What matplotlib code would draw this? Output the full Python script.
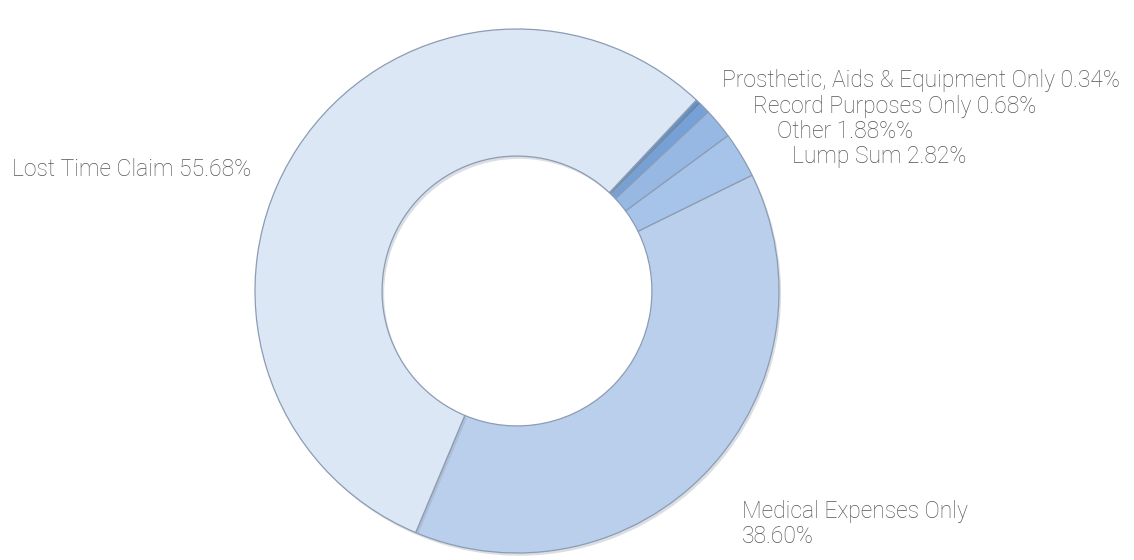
import matplotlib.pyplot as plt
import matplotlib.patheffects as pe

# claim types, ordered clockwise from the top-right
categories = ['Prosthetic, Aids & Equipment Only', 'Record Purposes Only', 'Other',
              'Lump Sum', 'Medical Expenses Only', 'Lost Time Claim']
shares = [0.34, 0.68, 1.88, 2.82, 38.60, 55.68]
label_texts = ['Prosthetic, Aids & Equipment Only 0.34%', 'Record Purposes Only 0.68%',
               'Other 1.88%%', 'Lump Sum 2.82%', 'Medical Expenses Only\n38.60%',
               'Lost Time Claim 55.68%']

colors = ['#4f86c8', '#75a1d9', '#97b8e3', '#a6c3e9', '#b9cfeb', '#dce7f5']
# label anchor points (pixels, origin top-left)
label_pos = [(722, 80), (753, 107), (777, 132), (792, 157), (742, 524), (12, 170)]

W, H = 1134, 560
fig = plt.figure(figsize=(W / 100, H / 100), dpi=100)
ax = fig.add_axes([0, 0, 1, 1])

cx, cy, r = 517, H - 291, 262
wedges, _ = ax.pie(shares, colors=colors, startangle=46.8, counterclock=False,
                   center=(cx, cy), radius=r, frame=True,
                   wedgeprops=dict(width=r * 0.485, edgecolor='#8c9cb4', linewidth=0.9))
ax.set_xlim(0, W)
ax.set_ylim(0, H)
ax.set_aspect('equal')
ax.axis('off')
for w in wedges:
    w.set_path_effects([pe.SimplePatchShadow(offset=(1.5, -2), shadow_rgbFace='#9aa3ad', alpha=0.35),
                        pe.Normal()])

for txt, (x, y) in zip(label_texts, label_pos):
    ax.text(x, H - y, txt, fontsize=16.5, color='#555555', family=['Roboto', 'DejaVu Sans'],
            fontweight='light', ha='left', va='center', linespacing=1.15)

fig.savefig('out.png', dpi=100, facecolor='white')
